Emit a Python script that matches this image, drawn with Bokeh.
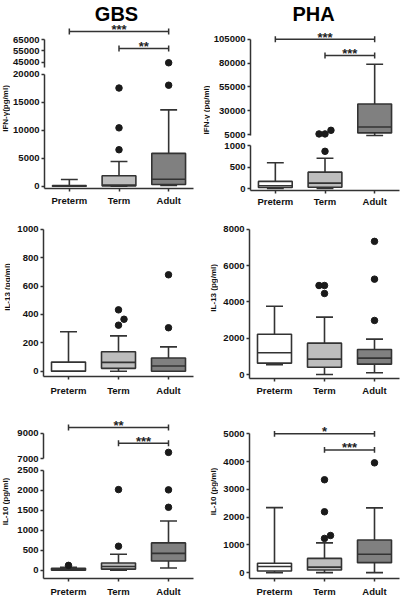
import math
import numpy as np
from bokeh.plotting import figure
from bokeh.layouts import column, row
from bokeh.models import Range1d, FixedTicker, NumeralTickFormatter, Label
from bokeh.embed import file_html
from bokeh.resources import INLINE

categories = ["Preterm", "Term", "Adult"]

# ---- GBS IFN-gamma (pg/ml) ----
gbs_ifn_min = [0, 0, 150]
gbs_ifn_q1 = [0, 60, 300]
gbs_ifn_med = [20, 200, 1250]
gbs_ifn_q3 = [100, 1850, 5850]
gbs_ifn_max = [1200, 4400, 13600]
gbs_ifn_out_cat = [1, 1, 1, 2, 2]
gbs_ifn_out_val = [6500, 10400, 17500, 18000, 44500]
gbs_ifn_out_dx = [0, 0, 0, 0, 0]
gbs_ifn_sig = [(0, 2, "***", 72000), (1, 2, "**", 57000)]

# ---- PHA IFN-gamma (pg/ml) ----
pha_ifn_min = [0, 0, 4000]
pha_ifn_q1 = [25, 30, 6700]
pha_ifn_med = [65, 125, 12900]
pha_ifn_q3 = [165, 380, 37000]
pha_ifn_max = [600, 705, 78700]
pha_ifn_out_cat = [1, 1, 1, 1]
pha_ifn_out_val = [865, 5600, 5600, 9400]
pha_ifn_out_dx = [0, -0.12, 0, 0.12]
pha_ifn_sig = [(0, 2, "***", 105000), (1, 2, "***", 88000)]

# ---- GBS IL-13 (pg/ml) ----
gbs_il13_min = [0, 0, 0]
gbs_il13_q1 = [0, 20, 0]
gbs_il13_med = [0, 62, 37]
gbs_il13_q3 = [64, 137, 93]
gbs_il13_max = [278, 249, 171]
gbs_il13_out_cat = [1, 1, 1, 2, 2]
gbs_il13_out_val = [432, 366, 324, 306, 679]
gbs_il13_out_dx = [0, 0.11, 0, 0, 0]

# ---- PHA IL-13 (pg/ml) ----
pha_il13_min = [535, 0, 95]
pha_il13_q1 = [625, 400, 570]
pha_il13_med = [1195, 845, 900]
pha_il13_q3 = [2220, 1725, 1377]
pha_il13_max = [3760, 3157, 1945]
pha_il13_out_cat = [1, 1, 1, 2, 2, 2]
pha_il13_out_val = [4900, 4900, 4460, 2975, 5250, 7330]
pha_il13_out_dx = [-0.11, 0, 0, 0, 0, 0]

# ---- GBS IL-10 (pg/ml) ----
gbs_il10_min = [0, 0, 55]
gbs_il10_q1 = [0, 25, 229]
gbs_il10_med = [20, 90, 419]
gbs_il10_q3 = [45, 180, 681]
gbs_il10_max = [72, 397, 1227]
gbs_il10_out_cat = [0, 1, 1, 2, 2, 2]
gbs_il10_out_val = [120, 598, 2013, 1571, 2006, 7480]
gbs_il10_out_dx = [0, 0, 0, 0, 0, 0]
gbs_il10_sig = [(0, 2, "**", 9430), (1, 2, "***", 8200)]

# ---- PHA IL-10 (pg/ml) ----
pha_il10_min = [0, 0, 0]
pha_il10_q1 = [60, 95, 360]
pha_il10_med = [220, 200, 664]
pha_il10_q3 = [339, 514, 1178]
pha_il10_max = [2343, 1073, 2332]
pha_il10_out_cat = [1, 1, 1, 1, 2]
pha_il10_out_val = [1234, 1339, 2192, 3346, 3955]
pha_il10_out_dx = [0, 0.12, 0, 0, 0]
pha_il10_sig = [(0, 2, "*", 5000), (1, 2, "***", 4420)]

# ---------------- styling ----------------
LINE = "#333333"
FILLS = ["#ffffff", "#bdbdbd", "#808080"]
FONT = "Liberation Sans"
XS = np.arange(len(categories)) + 0.5
BOX_W = 0.68
CAP_W = 0.34


class Seg:
    def __init__(self, width, height, left, right, top_b, bot_b, page_top,
                 hi_tick, hi_py, lo_tick, lo_py, x_axis, ticks, bound_lo=None,
                 standoff=3):
        self.frame_top = page_top + top_b
        frame_bot = page_top + height - bot_b
        self.upp = (hi_tick - lo_tick) / (lo_py - hi_py)
        self.y1 = hi_tick + (hi_py - self.frame_top) * self.upp
        self.y0 = lo_tick - (frame_bot - lo_py) * self.upp
        p = figure(width=width, height=height, x_range=Range1d(0, 3),
                   y_range=Range1d(self.y0, self.y1), output_backend="svg",
                   toolbar_location=None,
                   x_axis_location="below" if x_axis else None,
                   min_border_left=left, min_border_right=right,
                   min_border_top=top_b, min_border_bottom=bot_b)
        p.grid.visible = False
        p.outline_line_color = None
        ax = p.yaxis[0]
        ax.ticker = FixedTicker(ticks=ticks)
        ax.formatter = NumeralTickFormatter(format="0")
        ax.bounds = (self.y0 if bound_lo is None else bound_lo, max(ticks))
        self._style_axis(ax)
        ax.major_label_standoff = 2
        if x_axis:
            xa = p.xaxis[0]
            xa.ticker = FixedTicker(ticks=list(XS))
            xa.major_label_overrides = {float(x): c for x, c in zip(XS, categories)}
            self._style_axis(xa)
            xa.major_label_standoff = standoff
        self.p = p

    @staticmethod
    def _style_axis(ax):
        ax.axis_line_color = LINE
        ax.axis_line_width = 1.5
        ax.major_tick_line_color = LINE
        ax.major_tick_line_width = 1.5
        ax.major_tick_out = 3
        ax.major_tick_in = 0
        ax.minor_tick_line_color = None
        ax.major_label_text_font = FONT
        ax.major_label_text_font_size = "9.5px"
        ax.major_label_text_font_style = "bold"
        ax.major_label_text_color = "#111111"

    def y_at(self, py):
        return self.y1 - (py - self.frame_top) * self.upp


def strip(width, height, text, sx, sy):
    """Narrow text-only canvas that holds a rotated y-axis title."""
    s = figure(width=width, height=height, x_range=Range1d(0, width),
               y_range=Range1d(height, 0), output_backend="svg",
               toolbar_location=None, x_axis_location=None, y_axis_location=None,
               min_border_left=0, min_border_right=0, min_border_top=0,
               min_border_bottom=0)
    s.grid.visible = False
    s.outline_line_color = None
    s.add_layout(Label(x=sx, y=sy, text=text, angle=math.pi / 2,
                       text_align="center", text_baseline="middle",
                       text_font=FONT, text_font_style="bold",
                       text_font_size="8px", text_color="#111111"))
    return s


def draw_boxes(seg, lo, hi, mins, q1, med, q3, maxs, oc, ov, odx):
    p = seg.p
    inw = lambda v: lo <= v <= hi
    wx0, wy0, wx1, wy1 = [], [], [], []
    for i, x in enumerate(XS):
        if inw(q3[i]) and inw(maxs[i]):
            wx0 += [x, x - CAP_W / 2]; wx1 += [x, x + CAP_W / 2]
            wy0 += [q3[i], maxs[i]]; wy1 += [maxs[i], maxs[i]]
        if inw(q1[i]) and inw(mins[i]):
            wx0 += [x, x - CAP_W / 2]; wx1 += [x, x + CAP_W / 2]
            wy0 += [q1[i], mins[i]]; wy1 += [mins[i], mins[i]]
    p.segment(wx0, wy0, wx1, wy1, line_color=LINE, line_width=1.6)
    idx = [i for i in range(3) if inw(q1[i]) and inw(q3[i])]
    p.vbar(x=[XS[i] for i in idx], width=BOX_W, bottom=[q1[i] for i in idx],
           top=[q3[i] for i in idx], fill_color=[FILLS[i] for i in idx],
           line_color=LINE, line_width=1.6)
    p.segment([XS[i] - BOX_W / 2 for i in idx], [med[i] for i in idx],
              [XS[i] + BOX_W / 2 for i in idx], [med[i] for i in idx],
              line_color=LINE, line_width=1.6)
    pts = [(XS[c] + d, v) for c, v, d in zip(oc, ov, odx) if inw(v)]
    if pts:
        p.scatter([a for a, _ in pts], [b for _, b in pts], size=6.5,
                  marker="circle", fill_color="#1a1a1a", line_color="#1a1a1a")


def draw_sig(seg, sigs):
    p = seg.p
    for a, b, stars, y in sigs:
        xa, xb = XS[a], XS[b]
        h = 3 * seg.upp
        p.segment([xa, xa, xb], [y, y - h, y - h], [xb, xa, xb], [y, y + h, y + h],
                  line_color=LINE, line_width=1.5)
        p.add_layout(Label(x=(xa + xb) / 2, y=y + 2.2 * seg.upp, text=stars,
                           text_align="center", text_baseline="alphabetic",
                           text_font=FONT, text_font_style="bold",
                           text_font_size="13px", text_color="#222222"))


def title(seg, text, x, py):
    seg.p.add_layout(Label(x=x, y=seg.y_at(py), text=text, text_align="center",
                           text_baseline="alphabetic", text_font=FONT,
                           text_font_style="bold", text_font_size="20px",
                           text_color="#000000"))


BIG = 1e9
SL, LL, LR = 10, 33, 6          # left column: strip, border left, border right
LW = 199 - SL
SB, RLB, RR = 11, 39, 1          # right column, IFN panel
SD, RLD = 19, 31                 # right column, IL-13 / IL-10 panels

# ---- left column ----
A1 = Seg(LW, 69, LL, LR, 0, 0, 8, 65000, 47, 45000, 69.7, False,
         [45000, 55000, 65000], bound_lo=40500)
A2 = Seg(LW, 143, LL, LR, 0, 24, 77, 20000, 81.5, 0, 193.7, True,
         [0, 5000, 10000, 15000, 20000], standoff=3)
draw_boxes(A1, 30000, BIG, gbs_ifn_min, gbs_ifn_q1, gbs_ifn_med, gbs_ifn_q3, gbs_ifn_max,
           gbs_ifn_out_cat, gbs_ifn_out_val, gbs_ifn_out_dx)
draw_boxes(A2, -BIG, 20000, gbs_ifn_min, gbs_ifn_q1, gbs_ifn_med, gbs_ifn_q3, gbs_ifn_max,
           gbs_ifn_out_cat, gbs_ifn_out_val, gbs_ifn_out_dx)
draw_sig(A1, gbs_ifn_sig)
title(A1, "GBS", 1.45, 21)
panelA = row(strip(SL, 212, "IFN-γ(pg/ml)", 5, 116 - 8), column(A1.p, A2.p))

C = Seg(LW, 190, LL, LR, 8, 26, 220, 1000, 236.7, 0, 378.7, True,
        [0, 200, 400, 600, 800, 1000], standoff=5)
draw_boxes(C, -BIG, BIG, gbs_il13_min, gbs_il13_q1, gbs_il13_med, gbs_il13_q3, gbs_il13_max,
           gbs_il13_out_cat, gbs_il13_out_val, gbs_il13_out_dx)
panelC = row(strip(SL, 190, "IL-13 (pg/ml)", 6.5, 301 - 220), C.p)

E1 = Seg(LW, 63, LL, LR, 0, 0, 410, 9000, 440.5, 7000, 466, False,
         [7000, 9000], bound_lo=7000)
E2 = Seg(LW, 134, LL, LR, 0, 16, 473, 2500, 477.8, 0, 582.3, True,
         [0, 500, 1000, 1500, 2000, 2500], standoff=4)
draw_boxes(E1, 5000, BIG, gbs_il10_min, gbs_il10_q1, gbs_il10_med, gbs_il10_q3, gbs_il10_max,
           gbs_il10_out_cat, gbs_il10_out_val, gbs_il10_out_dx)
draw_boxes(E2, -BIG, 2500, gbs_il10_min, gbs_il10_q1, gbs_il10_med, gbs_il10_q3, gbs_il10_max,
           gbs_il10_out_cat, gbs_il10_out_val, gbs_il10_out_dx)
draw_sig(E1, gbs_il10_sig)
panelE = row(strip(SL, 197, "IL-10 (pg/ml)", 5, 509 - 410), column(E1.p, E2.p))

# ---- right column ----
RWB = 201 - SB
B1 = Seg(RWB, 141, RLB, RR, 0, 0, 8, 105000, 46.7, 5000, 142, False,
         [5000, 30000, 55000, 80000, 105000], bound_lo=3800)
B2 = Seg(RWB, 71, RLB, RR, 0, 22, 149, 1000, 153, 0, 196, True,
         [0, 500, 1000], standoff=2)
draw_boxes(B1, 3000, BIG, pha_ifn_min, pha_ifn_q1, pha_ifn_med, pha_ifn_q3, pha_ifn_max,
           pha_ifn_out_cat, pha_ifn_out_val, pha_ifn_out_dx)
draw_boxes(B2, -BIG, 1000, pha_ifn_min, pha_ifn_q1, pha_ifn_med, pha_ifn_q3, pha_ifn_max,
           pha_ifn_out_cat, pha_ifn_out_val, pha_ifn_out_dx)
draw_sig(B1, pha_ifn_sig)
title(B1, "PHA", 1.27, 21)
panelB = row(strip(SB, 212, "IFN-γ (pg/ml)", 6.5, 117.5 - 8), column(B1.p, B2.p))

RWD = 201 - SD
D = Seg(RWD, 190, RLD, RR, 8, 24, 220, 8000, 236.7, 0, 382, True,
        [0, 2000, 4000, 6000, 8000], standoff=3)
draw_boxes(D, -BIG, BIG, pha_il13_min, pha_il13_q1, pha_il13_med, pha_il13_q3, pha_il13_max,
           pha_il13_out_cat, pha_il13_out_val, pha_il13_out_dx)
panelD = row(strip(SD, 190, "IL-13 (pg/ml)", 14, 301 - 220), D.p)

F = Seg(RWD, 197, RLD, RR, 8, 16, 410, 5000, 442, 0, 585, True,
        [0, 1000, 2000, 3000, 4000, 5000], standoff=4)
draw_boxes(F, -BIG, BIG, pha_il10_min, pha_il10_q1, pha_il10_med, pha_il10_q3, pha_il10_max,
           pha_il10_out_cat, pha_il10_out_val, pha_il10_out_dx)
draw_sig(F, pha_il10_sig)
panelF = row(strip(SD, 197, "IL-10 (pg/ml)", 14, 505 - 410), F.p)

left = column(panelA, panelC, panelE)
right = column(panelB, panelD, panelF)
layout = row(left, right)

open("out.html", "w").write(file_html(layout, INLINE))
